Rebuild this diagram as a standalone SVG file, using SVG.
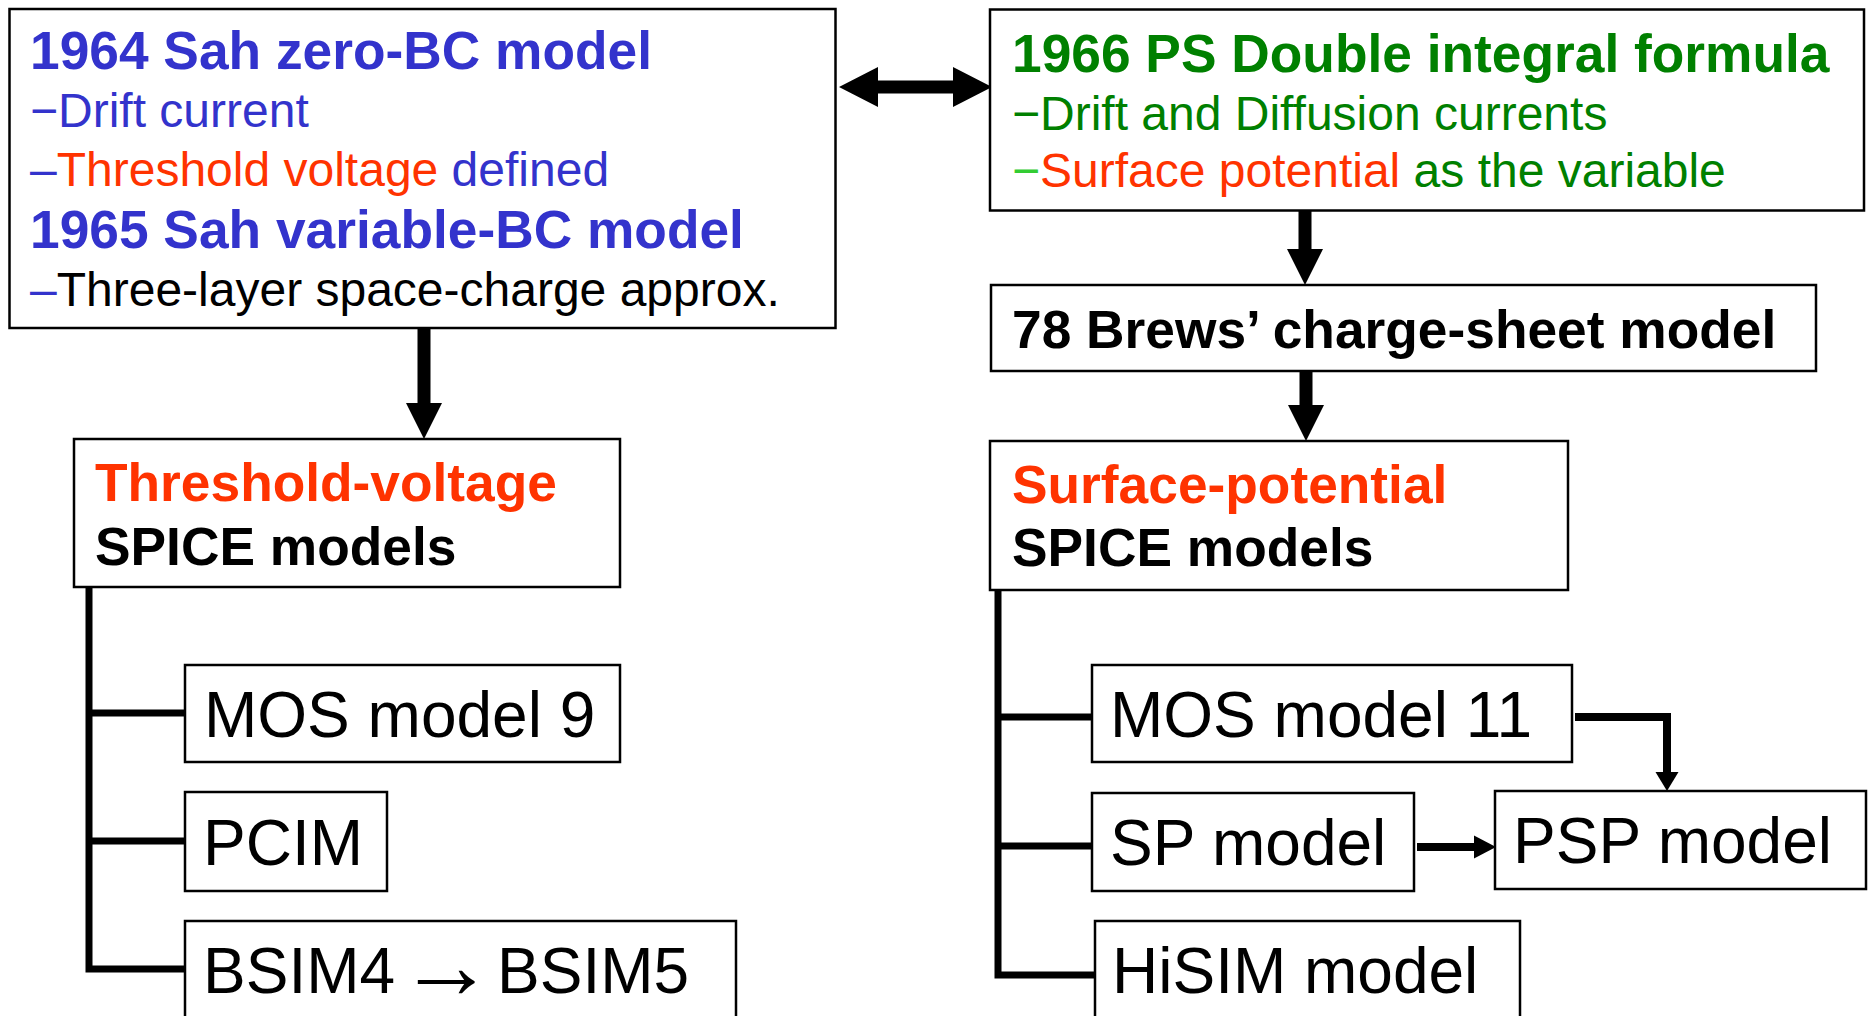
<svg xmlns="http://www.w3.org/2000/svg" width="1871" height="1016" viewBox="0 0 1871 1016">
<style>
.box{fill:#fff;stroke:#000;stroke-width:2.5}
text{font-family:"Liberation Sans",Arial,sans-serif}
.b{font-weight:bold;font-size:53.3px}
.r{font-size:48px}
.m{font-size:64px;fill:#000}
.blue{fill:#3333CC}
.red{fill:#FF3300}
.green{fill:#008000}
.lg{fill:#33CC33}
.k{fill:#000}
.ln{fill:none;stroke:#000;stroke-width:7}
.ln8{fill:none;stroke:#000;stroke-width:8}
.ah{fill:#000}
</style>
<rect width="1871" height="1016" fill="#fff"/>
<g id="connectors">
<polygon class="ah" points="839,87 878,67 878,80.5 953,80.5 953,67 992,87 953,107 953,93.5 878,93.5 878,107"/>
<polygon class="ah" points="417.5,328 430.5,328 430.5,403 442,403 424,439 406,403 417.5,403"/>
<polygon class="ah" points="1298.5,210 1311.5,210 1311.5,249 1323,249 1305,285 1287,249 1298.5,249"/>
<polygon class="ah" points="1299.5,371 1312.5,371 1312.5,405 1324,405 1306,441 1288,405 1299.5,405"/>
<path class="ln" d="M89,585 V969 H185 M89,713 H185 M89,841 H185"/>
<path class="ln" d="M998,590 V975 H1095 M998,717 H1092 M998,846 H1092"/>
<path class="ln8" d="M1575,717 H1667 V772"/>
<polygon class="ah" points="1655.5,772 1678.5,772 1667,791"/>
<path class="ln8" d="M1417,847 H1475"/>
<polygon class="ah" points="1474,835.5 1474,858.5 1496,847"/>
</g>
<g id="sah">
<rect class="box" x="9.5" y="9" width="826" height="319"/>
<text x="30" y="69" class="b blue">1964 Sah zero-BC model</text>
<text x="30" y="127" class="r blue">−Drift current</text>
<text x="30" y="186" class="r"><tspan class="blue">–</tspan><tspan class="red">Threshold voltage</tspan><tspan class="blue"> defined</tspan></text>
<text x="30" y="248" class="b blue">1965 Sah variable-BC model</text>
<text x="30" y="306" class="r"><tspan class="blue">–</tspan><tspan class="k">Three-layer space-charge approx.</tspan></text>
</g>
<g id="ps">
<rect class="box" x="990" y="9.5" width="874" height="201"/>
<text x="1012" y="72" class="b green">1966 PS Double integral formula</text>
<text x="1012" y="130" class="r green">−Drift and Diffusion currents</text>
<text x="1012" y="187" class="r"><tspan class="lg">−</tspan><tspan class="red">Surface potential</tspan><tspan class="green"> as the variable</tspan></text>
</g>
<g id="brews">
<rect class="box" x="991" y="285" width="825" height="86"/>
<text x="1012" y="348" class="b k">78 Brews’ charge-sheet model</text>
</g>
<g id="threshold">
<rect class="box" x="74" y="439" width="546" height="148"/>
<text x="95" y="501" class="b red">Threshold-voltage</text>
<text x="95" y="565" class="b k">SPICE models</text>
</g>
<g id="surface">
<rect class="box" x="990" y="441" width="578" height="149"/>
<text x="1012" y="503" class="b red">Surface-potential</text>
<text x="1012" y="566" class="b k">SPICE models</text>
</g>
<g id="mos9">
<rect class="box" x="185" y="665" width="435" height="97"/>
<text x="204" y="737" class="m">MOS model 9</text>
</g>
<g id="pcim">
<rect class="box" x="185" y="792" width="202" height="99"/>
<text x="203" y="865" class="m">PCIM</text>
</g>
<g id="bsim">
<rect class="box" x="185" y="921" width="551" height="110"/>
<text x="203" y="993" class="m">BSIM4</text>
<text x="398" y="998" class="m" font-size="96" style="font-size:96px">→</text>
<text x="497" y="993" class="m">BSIM5</text>
</g>
<g id="mos11">
<rect class="box" x="1092" y="665" width="480" height="97"/>
<text x="1110" y="737" class="m">MOS model 11</text>
</g>
<g id="sp">
<rect class="box" x="1092" y="793" width="322" height="98"/>
<text x="1110" y="865" class="m">SP model</text>
</g>
<g id="hisim">
<rect class="box" x="1095" y="921" width="425" height="110"/>
<text x="1112" y="993" class="m">HiSIM model</text>
</g>
<g id="psp">
<rect class="box" x="1495" y="791" width="371" height="98"/>
<text x="1513" y="863" class="m">PSP model</text>
</g>
</svg>
